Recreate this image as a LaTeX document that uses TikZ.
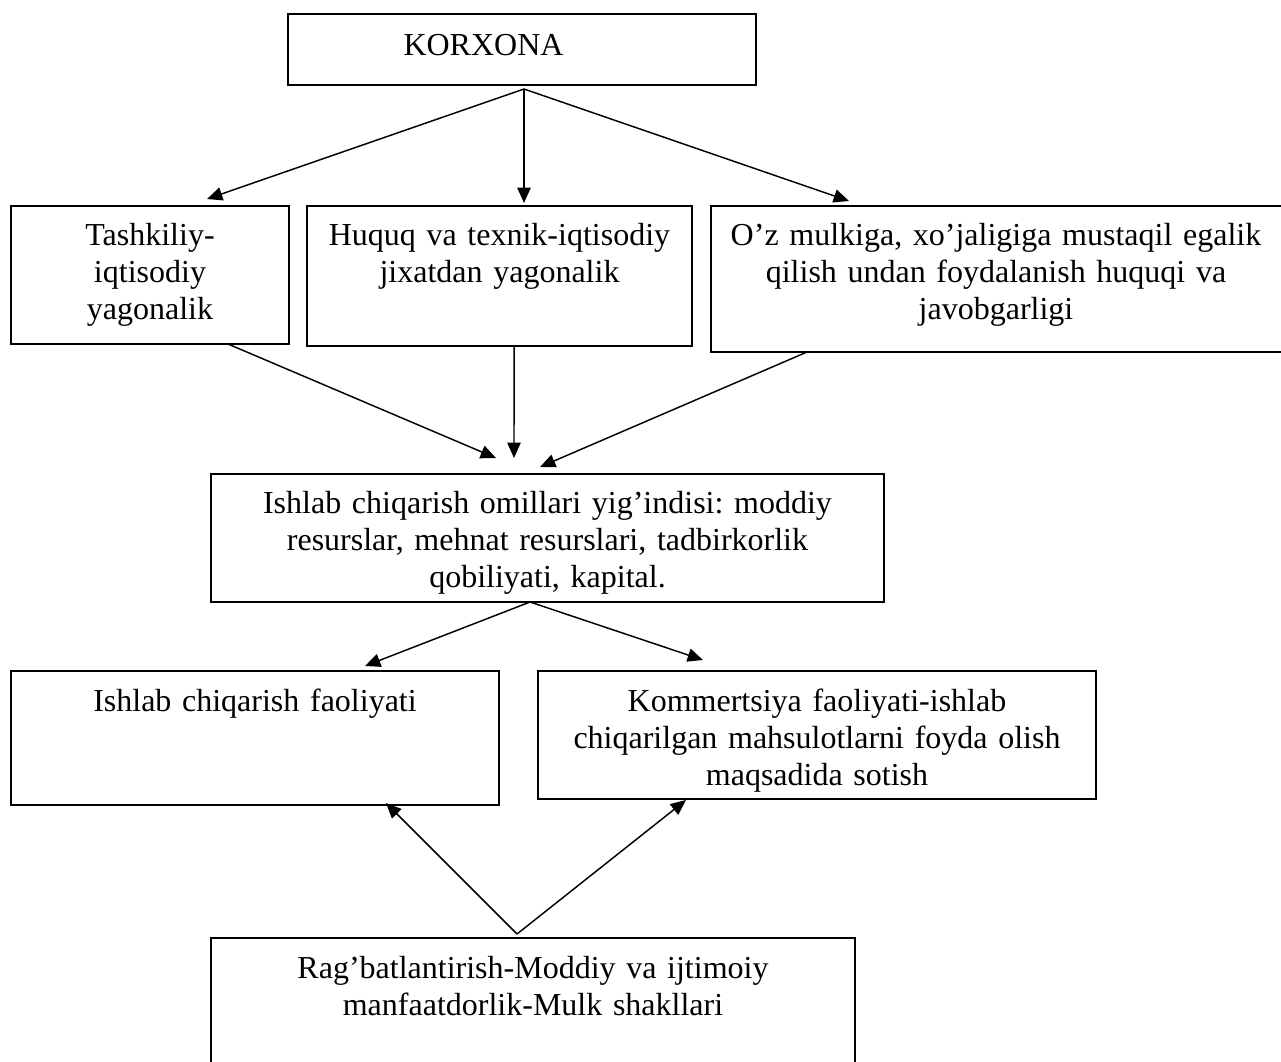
\documentclass[tikz,border=0pt]{standalone}
\usepackage{fontspec}
\setmainfont{Liberation Serif}
\usetikzlibrary{arrows.meta}
\begin{document}
\frenchspacing
\begin{tikzpicture}[x=0.75pt,y=-0.75pt,
  box/.style={draw=black,line width=1.7pt,inner sep=0pt,outer sep=0pt,anchor=north west},
  txt/.style={inner sep=0pt,anchor=base,align=center,text width=#1,
    font=\fontsize{24}{28}\selectfont\frenchspacing},
  arr/.style={line width=1.1pt,-{Triangle[length=11.5pt,width=10pt]}}]
\useasboundingbox (0,0) rectangle (1281,1061);
\clip (0,0) rectangle (1281,1061);
% boxes
\node[box,minimum width=351pt,minimum height=53.25pt] (korx) at (288,14) {};
\node[box,minimum width=208.5pt,minimum height=103.5pt] (b1) at (11,206) {};
\node[box,minimum width=288.75pt,minimum height=105pt] (b2) at (307,206) {};
\node[box,minimum width=434.25pt,minimum height=109.5pt] (b3) at (711,206) {};
\node[box,minimum width=504.75pt,minimum height=96pt] (mid) at (211,474) {};
\node[box,minimum width=366pt,minimum height=100.5pt] (b4) at (11,671) {};
\node[box,minimum width=418.5pt,minimum height=96pt] (b5) at (538,671) {};
\node[box,minimum width=483pt,minimum height=106.5pt] (b6) at (211,938) {};
% texts
\node[txt=200pt] (tk) at (483.5,55) {KORXONA};
\node[txt=200pt] (t1) at (150,245) {Tashkiliy-\\iqtisodiy\\yagonalik};
\node[txt=280pt] (t2) at (499.5,245) {Huquq va texnik-iqtisodiy\\jixatdan yagonalik};
\node[txt=420pt] (t3) at (996,245) {O’z mulkiga, xo’jaligiga mustaqil egalik\\qilish undan foydalanish huquqi va\\javobgarligi};
\node[txt=480pt] (tm) at (547.5,513) {Ishlab chiqarish omillari yig’indisi: moddiy\\resurslar, mehnat resurslari, tadbirkorlik\\qobiliyati, kapital.};
\node[txt=350pt] (t4) at (255,711) {Ishlab chiqarish faoliyati};
\node[txt=410pt] (t5) at (817,711) {Kommertsiya faoliyati-ishlab\\chiqarilgan mahsulotlarni foyda olish\\maqsadida sotish};
\node[txt=470pt] (t6) at (533,978) {Rag’batlantirish-Moddiy va ijtimoiy\\manfaatdorlik-Mulk shakllari};
% arrow tips
\coordinate (p1) at (207,199);
\coordinate (p2) at (524,203);
\coordinate (p3) at (849,201);
\coordinate (p4) at (496,458);
\coordinate (p5) at (514,458);
\coordinate (p6) at (540,467);
\coordinate (p7) at (365,666);
\coordinate (p8) at (703,660);
\coordinate (p9) at (386,803);
\coordinate (p10) at (686,800);
% connectors
\draw[arr] ([xshift=1.5pt,yshift=-3pt]korx.south) -- (p1);
\draw[arr] ([xshift=1.5pt,yshift=-3pt]korx.south) -- (p2);
\draw[arr] ([xshift=1.5pt,yshift=-3pt]korx.south) -- (p3);
\draw[arr] ([xshift=58.5pt]b1.south) -- (p4);
\draw[arr] ([xshift=10.9pt]b2.south) -- (p5);
\draw[arr] ([xshift=-145.1pt]b3.south) -- (p6);
\draw[arr] ([xshift=-13.1pt]mid.south) -- (p7);
\draw[arr] ([xshift=-13.1pt]mid.south) -- (p8);
\draw[arr] ([xshift=-12pt,yshift=3pt]b6.north) -- (p9);
\draw[arr] ([xshift=-12pt,yshift=3pt]b6.north) -- (p10);
\end{tikzpicture}
\end{document}
